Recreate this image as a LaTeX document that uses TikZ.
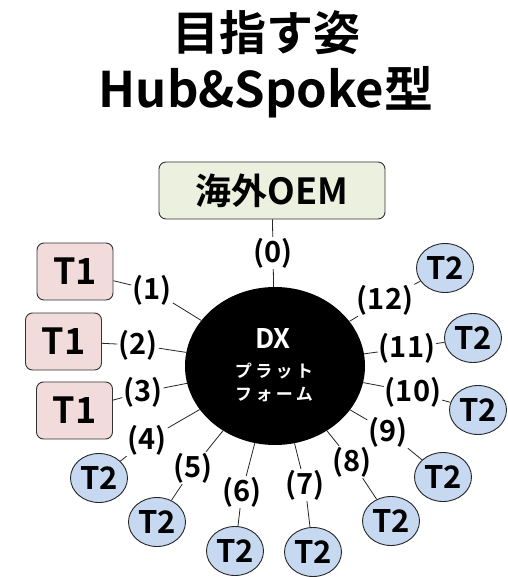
\documentclass[tikz,border=0pt]{standalone}
\usepackage{fontspec}
\setmainfont{Noto Sans CJK JP}[BoldFont={Noto Sans CJK JP Bold}]
\usetikzlibrary{shapes.geometric}
\definecolor{oemfill}{HTML}{EBF1DE}
\definecolor{t1fill}{HTML}{F2DCDB}
\definecolor{t2fill}{HTML}{C6D9F1}
\newfontfamily\spacedcjk{Noto Sans CJK JP Bold}[LetterSpace=20]
\tikzset{
  fs/.style={font=\bfseries\fontsize{#1}{#1}\selectfont},
  t1box/.style={draw=black!80, line width=0.9pt, rounded corners=7, fill=t1fill, minimum width=76, minimum height=57, inner sep=0, fs=36},
  t2box/.style={ellipse, draw=black!85, line width=0.9pt, fill=t2fill, minimum width=57, minimum height=49, inner sep=0, fs=31},
  lbl/.style={inner sep=1pt, fs=29},
  conn/.style={draw=black!85, line width=0.8pt},
}
\begin{document}
\begin{tikzpicture}[x=1pt,y=-1pt]
\useasboundingbox[fill=white] (0,0) rectangle (507,577);
\node[fs=47] (title1) at (266,33) {目指す姿};
\node[fs=49] (title2) at (266,92) {Hub\&Spoke型};
\node[draw=black!80, line width=0.9pt, rounded corners=7, fill=oemfill, minimum width=226, minimum height=57, inner sep=0, fs=36] (oem) at (272,190.5) {海外OEM};
\node[ellipse, fill=black, minimum width=180, minimum height=158, inner sep=0] (hub) at (275,366) {};
\node[text=white, fs=27] (dx) at (273,338) {DX};
\node[text=white, font=\spacedcjk\fontsize{17}{17}\selectfont] (pf1) at (274,371) {プラット};
\node[text=white, font=\spacedcjk\fontsize{17}{17}\selectfont] (pf2) at (274,394) {フォーム};
% T1 boxes
\node[t1box] (a1) at (75,271.5) {T1};
\node[t1box] (a2) at (63.5,341.5) {T1};
\node[t1box] (a3) at (74.5,410.5) {T1};
% T2 ellipses
\node[t2box] (b4) at (99,478) {T2};
\node[t2box] (b5) at (157,522) {T2};
\node[t2box] (b6) at (235,551) {T2};
\node[t2box] (b7) at (313,552) {T2};
\node[t2box] (b8) at (391,521) {T2};
\node[t2box] (b9) at (443,477) {T2};
\node[t2box] (b10) at (478,410) {T2};
\node[t2box] (b11) at (473,338) {T2};
\node[t2box] (b12) at (445,268) {T2};
% labels
\node[lbl] (l0) at (273,253) {(0)};
\node[lbl] (l1) at (152,290) {(1)};
\node[lbl] (l2) at (138,345) {(2)};
\node[lbl] (l3) at (143,392) {(3)};
\node[lbl] (l4) at (147,440) {(4)};
\node[lbl] (l5) at (193,468) {(5)};
\node[lbl] (l6) at (242,492) {(6)};
\node[lbl] (l7) at (305,485) {(7)};
\node[lbl] (l8) at (352,462) {(8)};
\node[lbl] (l9) at (388,432) {(9)};
\node[lbl] (l10) at (413,392) {(10)};
\node[lbl] (l11) at (407,348) {(11)};
\node[lbl] (l12) at (385,300) {(12)};
% connectors
\draw[conn] (oem) -- (l0) -- (hub);
\draw[conn] (a1) -- (l1) -- (hub);
\draw[conn] (a2) -- (l2) -- (hub);
\draw[conn] (a3) -- (l3) -- (hub);
\draw[conn] (b4) -- (l4) -- (hub);
\draw[conn] (b5) -- (l5) -- (hub);
\draw[conn] (b6) -- (l6) -- (hub);
\draw[conn] (b7) -- (l7) -- (hub);
\draw[conn] (b8) -- (l8) -- (hub);
\draw[conn] (b9) -- (l9) -- (hub);
\draw[conn] (b10) -- (l10) -- (hub);
\draw[conn] (b11) -- (l11) -- (hub);
\draw[conn] (b12) -- (l12) -- (hub);
\end{tikzpicture}
\end{document}
